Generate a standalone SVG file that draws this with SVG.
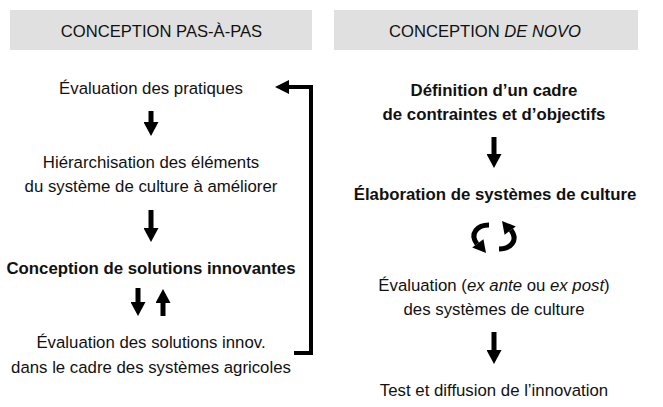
<svg xmlns="http://www.w3.org/2000/svg" width="663" height="407" viewBox="0 0 663 407">
  <style>
    text { font-family: "Liberation Sans", Arial, sans-serif; font-size: 16.8px; fill: #111; text-anchor: middle; }
    .head { font-size: 16.6px; }
    .b { font-weight: bold; }
    .hdr { fill: #e0e0e0; }
    .shaft { stroke: #000; stroke-width: 4; fill: none; }
    .arrow { stroke: #000; stroke-width: 5; fill: none; marker-end: url(#head); }
    .tip { fill: #000; }
  </style>
  <defs>
    <marker id="head" viewBox="0 0 14 15" refX="1" refY="7.5" markerWidth="14" markerHeight="15" markerUnits="userSpaceOnUse" orient="auto">
      <path d="M0,0 L14,7.5 L0,15 z" fill="#000"/>
    </marker>
    <!-- one half of the cycle symbol -->
    <g id="curl">
      <path d="M 489 225 C 478 225, 469 233, 477 244" stroke="#000" stroke-width="5" fill="none"/>
      <polygon points="486,253 472.2,247.6 483.4,239.2" class="tip"/>
    </g>
  </defs>

  <!-- headers -->
  <g id="header-left">
    <rect class="hdr" x="10" y="10" width="302" height="40"/>
    <text class="head" x="161.5" y="37">CONCEPTION PAS-À-PAS</text>
  </g>
  <g id="header-right">
    <rect class="hdr" x="334" y="10" width="304" height="40"/>
    <text class="head" x="485" y="37">CONCEPTION <tspan font-style="italic">DE NOVO</tspan></text>
  </g>

  <!-- step-by-step column -->
  <g id="eval-pratiques">
    <text x="151" y="94">Évaluation des pratiques</text>
  </g>
  <g id="hierarchisation">
    <text x="151" y="168">Hiérarchisation des éléments</text>
    <text x="151" y="192">du système de culture à améliorer</text>
  </g>
  <g id="conception-solutions">
    <text class="b" x="151" y="274">Conception de solutions innovantes</text>
  </g>
  <g id="eval-solutions">
    <text x="151" y="348">Évaluation des solutions innov.</text>
    <text x="151" y="373">dans le cadre des systèmes agricoles</text>
  </g>

  <!-- de novo column -->
  <g id="definition-cadre">
    <text class="b" x="494" y="96">Définition d’un cadre</text>
    <text class="b" x="494" y="120">de contraintes et d’objectifs</text>
  </g>
  <g id="elaboration">
    <text class="b" x="495" y="200">Élaboration de systèmes de culture</text>
  </g>
  <g id="eval-systemes">
    <text x="494" y="291">Évaluation (<tspan font-style="italic">ex ante</tspan> ou <tspan font-style="italic">ex post</tspan>)</text>
    <text x="494" y="315">des systèmes de culture</text>
  </g>
  <g id="test-diffusion">
    <text x="494" y="396">Test et diffusion de l’innovation</text>
  </g>

  <!-- connectors -->
  <g id="connectors">
    <line class="arrow" x1="151" y1="111" x2="151" y2="123"/>
    <line class="arrow" x1="151" y1="210" x2="151" y2="229"/>
    <line class="arrow" x1="138" y1="288" x2="138" y2="303"/>
    <line class="arrow" x1="163" y1="316" x2="163" y2="302"/>
    <line class="arrow" x1="494" y1="137" x2="494" y2="155"/>
    <line class="arrow" x1="494" y1="332" x2="494" y2="351"/>
    <!-- feedback loop back to the first step -->
    <polyline points="294,353 311,353 311,87 287,87" class="shaft"/>
    <polygon points="275,87 289,80 289,94" class="tip"/>
    <!-- iteration cycle -->
    <use href="#curl"/>
    <use href="#curl" transform="rotate(180 494 237)"/>
  </g>
</svg>
